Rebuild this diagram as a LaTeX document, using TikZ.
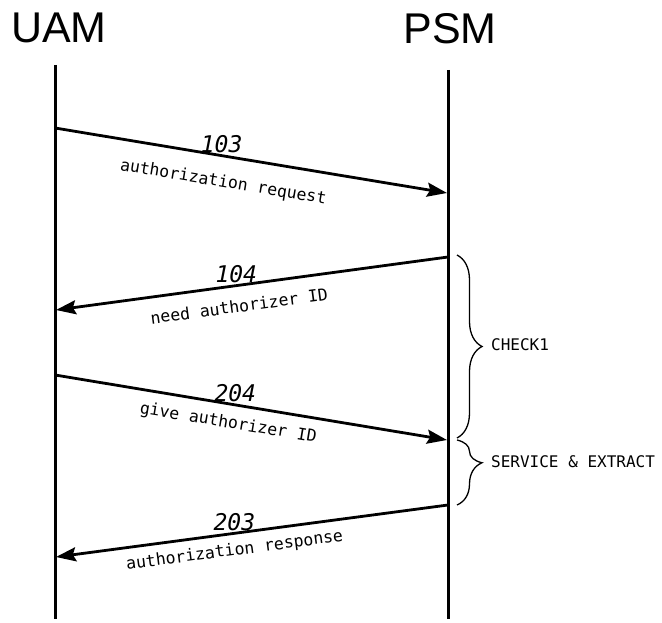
\documentclass[tikz,border=0pt]{standalone}
\usepackage{fontspec}
\newfontfamily\plotfont{DejaVu Sans Mono}
\newfontfamily\headfont{Liberation Sans}
\usetikzlibrary{arrows.meta, decorations.pathreplacing}

\begin{document}
\begin{tikzpicture}[
    x=1pt, y=-1pt,
    title/.style={font=\headfont\fontsize{43}{43}\selectfont, inner sep=0pt},
    life/.style={line width=3pt},
    msg/.style={line width=2.8pt, -{Stealth[length=20pt, width=14pt, inset=3pt]}},
    num/.style={font=\plotfont\itshape\fontsize{23}{23}\selectfont, inner sep=1.5pt, above},
    lbl/.style={font=\plotfont\fontsize{16.5}{16.5}\selectfont, inner sep=0pt, sloped},
    brc/.style={line width=1.3pt, decorate},
    phase/.style={font=\plotfont\fontsize{16}{16}\selectfont, anchor=west, inner sep=0pt},
  ]
    \useasboundingbox (0,0) rectangle (662,623);
    % the two machines
    \node[title] (uam) at (59,28) {UAM};
    \node[title] (psm) at (450,29) {PSM};
    \coordinate (uamtop) at (55,65);
    \coordinate (uambot) at (55,619);
    \coordinate (psmtop) at (448,70);
    \coordinate (psmbot) at (448,619);
    \draw[life] (uamtop) -- (uambot);
    \draw[life] (psmtop) -- (psmbot);
    % message ends
    \coordinate (m103a) at (55,128);
    \coordinate (m103b) at (447,193);
    \coordinate (m104a) at (448,257);
    \coordinate (m104b) at (56,310);
    \coordinate (m204a) at (55,375);
    \coordinate (m204b) at (447,440);
    \coordinate (m203a) at (448,505);
    \coordinate (m203b) at (56,557);
    % messages
    \draw[msg] (m103a) -- node[num, pos=0.425] (n103) {103}
      node[lbl, below=17pt, pos=0.44] (t103) {authorization request} (m103b);
    \draw[msg] (m104a) -- node[num, pos=0.54] (n104) {104}
      node[lbl, below=13pt, pos=0.54] (t104) {need authorizer ID} (m104b);
    \draw[msg] (m204a) -- node[num, pos=0.46] (n204) {204}
      node[lbl, below=10pt, pos=0.45] (t204) {give authorizer ID} (m204b);
    \draw[msg] (m203a) -- node[num, pos=0.545] (n203) {203}
      node[lbl, below=8pt, pos=0.55] (t203) {authorization response} (m203b);
    % phases on the PSM side
    \coordinate (b1top) at (457,255);
    \coordinate (b1bot) at (457,438);
    \coordinate (b2top) at (457,440);
    \coordinate (b2bot) at (457,505);
    \draw[brc, decoration={brace, amplitude=25pt}] (b1top) -- (b1bot);
    \draw[brc, decoration={brace, amplitude=25pt, aspect=0.35}] (b2top) -- (b2bot);
    \node[phase] (check) at (491,345) {CHECK1};
    \node[phase] (serv) at (491,462) {SERVICE \& EXTRACT};
\end{tikzpicture}
\end{document}
